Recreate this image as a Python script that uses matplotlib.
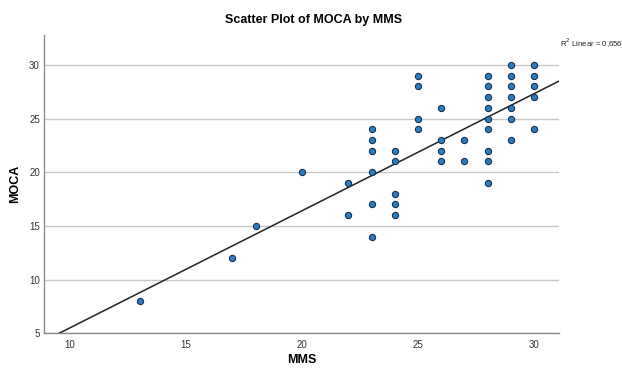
import numpy as np
import matplotlib
matplotlib.use('Agg')
import matplotlib.pyplot as plt

# ---- data --------------------------------------------------------------------
mms = [13, 17, 18, 20, 22, 22,
       23, 23, 23, 23, 23, 23,
       24, 24, 24, 24, 24,
       25, 25, 25, 25,
       26, 26, 26, 26,
       27, 27,
       28, 28, 28, 28, 28, 28, 28, 28, 28,
       29, 29, 29, 29, 29, 29, 29,
       30, 30, 30, 30, 30]
moca = [8, 12, 15, 20, 16, 19,
        14, 17, 20, 22, 23, 24,
        16, 17, 18, 21, 22,
        24, 25, 28, 29,
        21, 22, 23, 26,
        21, 23,
        19, 21, 22, 24, 25, 26, 27, 28, 29,
        23, 25, 26, 27, 28, 29, 30,
        24, 27, 28, 29, 30]
fit_intercept = -5.39   # fit line as drawn in the reference
fit_slope = 1.09
r2_label = 'R$^2$ Linear = 0,656'
x_ticks = [10, 15, 20, 25, 30]
y_ticks = [5, 10, 15, 20, 25, 30]

# ---- figure ------------------------------------------------------------------
plt.rcParams['font.family'] = ['Liberation Sans', 'DejaVu Sans']
W, H = 622, 368
fig = plt.figure(figsize=(W / 100, H / 100), dpi=100)
ax = fig.add_axes([44 / W, 1 - 333.3 / H, (559 - 44) / W, (333.3 - 35) / H])

xlim = (8.88, 31.08)
ax.set_xlim(*xlim)
ax.set_ylim(5, 32.78)

ax.set_yticks(y_ticks)
ax.set_xticks(x_ticks)
ax.grid(axis='y', color='#c8c8c8', linewidth=1.0)
ax.set_axisbelow(True)
for side in ('top', 'right'):
    ax.spines[side].set_visible(False)
for side in ('left', 'bottom'):
    ax.spines[side].set_color('#8a8a8a')
    ax.spines[side].set_linewidth(1.0)
ax.tick_params(length=0, labelsize=7, labelcolor='#333333')
ax.tick_params(axis='x', pad=5)
ax.tick_params(axis='y', pad=3)

xs = np.array(xlim)
ax.plot(xs, fit_intercept + fit_slope * xs, color='#222222', linewidth=1.1, zorder=2)
ax.scatter(mms, moca, s=20, facecolor='#2a7fc4', edgecolor='#16304f',
           linewidth=0.8, zorder=3)

ax.set_xlabel('MMS', fontsize=9, fontweight='bold', labelpad=3)
ax.set_ylabel('MOCA', fontsize=9, fontweight='bold', labelpad=6)
fig.text(314 / W, 1 - 20 / H, 'Scatter Plot of MOCA by MMS', ha='center',
         va='center', fontsize=9, fontweight='bold')
fig.text(560 / W, 1 - 43 / H, r2_label, ha='left', va='center', fontsize=5.6,
         color='#222222')

fig.savefig('out.png', dpi=100)
